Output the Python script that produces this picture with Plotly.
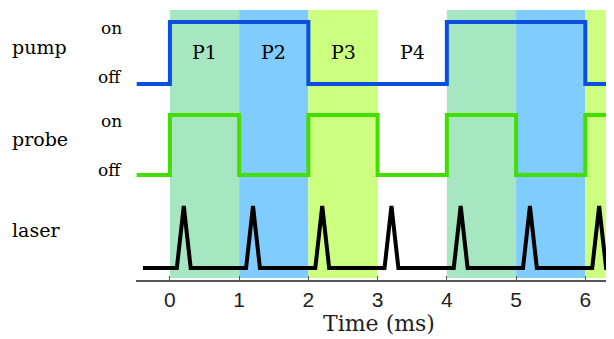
import plotly.graph_objects as go

# ---- data ----
pump_times = [-0.48, 0, 2, 4, 6, 6.7]
pump_states = [0, 1, 0, 1, 0, 0]
probe_times = [-0.48, 0, 1, 2, 3, 4, 5, 6, 6.7]
probe_states = [0, 1, 0, 1, 0, 1, 0, 1, 1]
laser_start, laser_end = -0.39, 6.7
laser_pulses = [0.2, 1.2, 2.2, 3.2, 4.2, 5.2, 6.2]
pulse_halfwidth = 0.1
phase_labels = ["P1", "P2", "P3", "P4"]
phase_starts = [0, 1, 2, 3, 4, 5, 6]
phase_colors = ["#a6e6c0", "#80ccff", "#ccff80", None]
tick_vals = [0, 1, 2, 3, 4, 5, 6]

# lane layout (vertical offsets in plot units)
PUMP_BASE, PUMP_AMP = 196, 62
PROBE_BASE, PROBE_AMP = 105, 60
LASER_BASE, LASER_AMP = 12, 62

# The page body has an 8px margin; plot area spans screen px 136..622 (x) and 10..280 (y)
X0, X1 = -0.49, 6.53
PLOT_W = 486.0

def px_to_paper(px):
    return (px - 136) / PLOT_W

fig = go.Figure()

# shaded phases
for i, s in enumerate(phase_starts):
    c = phase_colors[i % 4]
    if c is None:
        continue
    fig.add_shape(type="rect", xref="x", yref="paper", x0=s, x1=s + 1, y0=0.007, y1=1,
                  fillcolor=c, line_width=0, layer="below")

fig.add_trace(go.Scatter(x=pump_times, y=[PUMP_BASE + PUMP_AMP * v for v in pump_states],
                         mode="lines", line=dict(color="#0a4fe0", width=4, shape="hv"),
                         hoverinfo="skip"))
fig.add_trace(go.Scatter(x=probe_times, y=[PROBE_BASE + PROBE_AMP * v for v in probe_states],
                         mode="lines", line=dict(color="#44dd00", width=4, shape="hv"),
                         hoverinfo="skip"))

lx, ly = [laser_start], [LASER_BASE]
for p in laser_pulses:
    lx += [p - pulse_halfwidth, p, p + pulse_halfwidth]
    ly += [LASER_BASE, LASER_BASE + LASER_AMP, LASER_BASE]
lx.append(laser_end)
ly.append(LASER_BASE)
fig.add_trace(go.Scatter(x=lx, y=ly, mode="lines", line=dict(color="black", width=4),
                         hoverinfo="skip"))

serif = "DejaVu Serif"
ann = []
for i, lab in enumerate(phase_labels):
    ann.append(dict(x=phase_starts[i] + 0.5, y=228, text=lab, showarrow=False, xref="x", yref="y",
                    font=dict(family=serif, size=19, color="black")))
for name, yc in [("pump", 233), ("probe", 141), ("laser", 50)]:
    ann.append(dict(x=px_to_paper(10), y=yc, text=name, showarrow=False, xref="paper", yref="y",
                    xanchor="left", font=dict(family=serif, size=19, color="black")))
for txt, yc in [("on", 252), ("off", 203), ("on", 159), ("off", 110)]:
    ann.append(dict(x=px_to_paper(124), y=yc, text=txt, showarrow=False, xref="paper", yref="y",
                    xanchor="right", font=dict(family=serif, size=17, color="black")))

fig.update_layout(
    width=614, height=339,
    margin=dict(l=128, r=0, t=2, b=67),
    plot_bgcolor="white", paper_bgcolor="white",
    showlegend=False,
    annotations=ann,
    xaxis=dict(range=[X0, X1], tickvals=tick_vals, ticks="inside", ticklen=4,
               tickcolor="#555", showline=True, linecolor="#555", linewidth=1.5,
               showgrid=False, zeroline=False,
               tickfont=dict(family="Liberation Sans", size=21, color="#222"),
               title=dict(text="Time (ms)", font=dict(family=serif, size=22, color="#222"), standoff=3)),
    yaxis=dict(range=[0, 270], visible=False, showgrid=False, zeroline=False),
)

fig.write_html("out.html")
